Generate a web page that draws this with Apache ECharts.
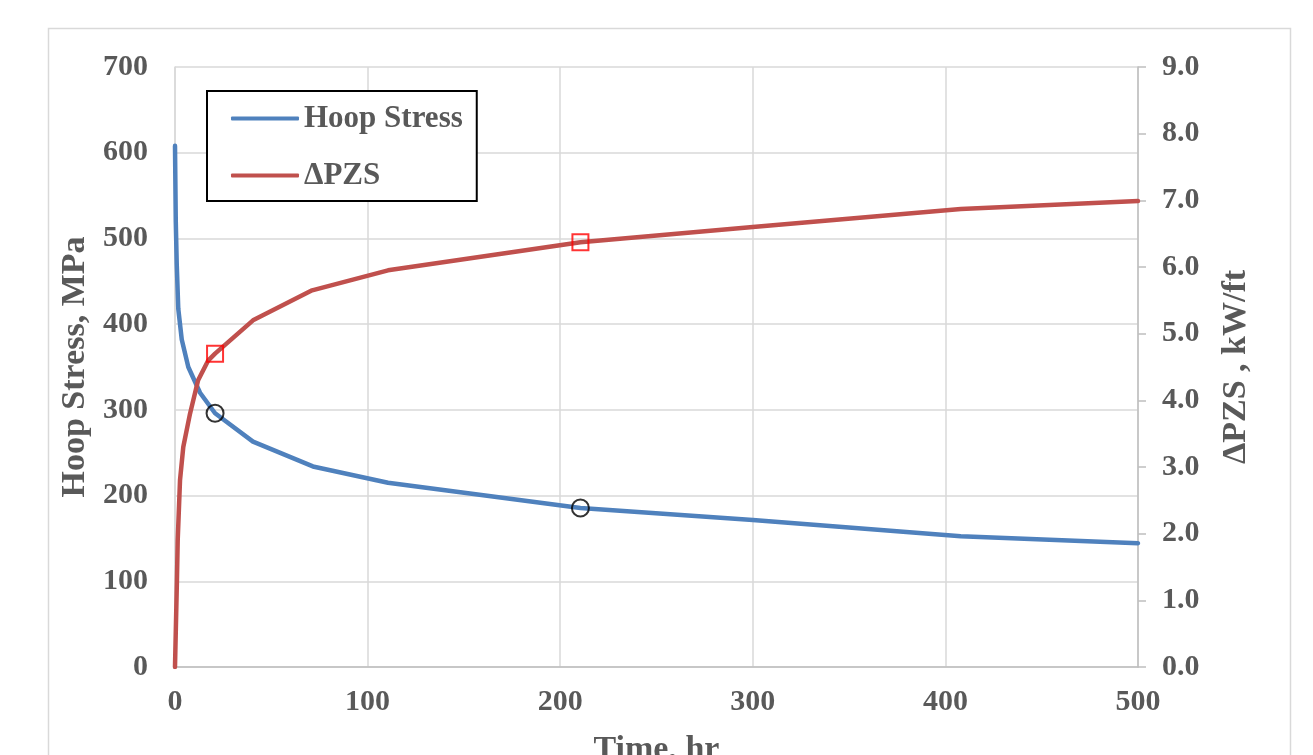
<!DOCTYPE html>
<html>
<head>
<meta charset="utf-8">
<script src="https://cdn.jsdelivr.net/npm/echarts@6/dist/echarts.min.js"></script>
<style>
html,body{margin:0;padding:0;background:#fff;overflow:hidden;}
#chart{width:1313px;height:755px;}
</style>
</head>
<body>
<div id="chart"></div>
<script>
// Time (hr) for each series
const hoopTime  = [0, 0.4, 0.9, 1.7, 3.5, 6.9, 13, 20.8, 40.5, 71.6, 110.6, 210.5, 300, 408, 500];
const hoopVal   = [608, 520, 470, 418, 382, 350, 320, 296, 263, 234, 215, 185.5, 171.5, 152.5, 144.5];
const pzsTime   = [0, 1.0, 1.4, 2.6, 4.3, 7.8, 12, 17.3, 20.8, 40.5, 71.2, 110.6, 210.5, 300, 408, 500];
const pzsVal    = [0, 1.3, 1.9, 2.8, 3.3, 3.8, 4.3, 4.6, 4.7, 5.2, 5.65, 5.95, 6.37, 6.60, 6.87, 6.99];
// Highlighted points
const circleTime = [20.8, 210.5];
const circleVal  = [296, 185.5];
const squareTime = [20.8, 210.5];
const squareVal  = [4.7, 6.37];
// Axis ticks
const xTicks = [0, 100, 200, 300, 400, 500];
const leftTicks = [0, 100, 200, 300, 400, 500, 600, 700];
const rightTicks = [0, 1, 2, 3, 4, 5, 6, 7, 8, 9];

const zip = (a, b) => a.map((v, i) => [v, b[i]]);
const FONT = 'Liberation Serif';
const TXT = '#595959';

const chart = echarts.init(document.getElementById('chart'), null, {renderer: 'canvas', width: 1313, height: 755});
chart.setOption({
  backgroundColor: '#fff',
  animation: false,
  graphic: [{
    type: 'rect', left: 46, top: 26, z: -10,
    shape: {x: 0, y: 0, width: 1242, height: 800},
    style: {fill: 'none', stroke: '#d9d9d9', lineWidth: 1.5}
  }],
  grid: {left: 175, width: 963, top: 67, height: 600, containLabel: false, outerBoundsMode: 'none'},
  legend: {
    data: [{name: 'Hoop Stress'}, {name: 'ΔPZS'}],
    orient: 'vertical',
    left: 207, top: 91,
    padding: [12, 14, 10, 24],
    icon: 'roundRect',
    itemWidth: 68, itemHeight: 4, itemGap: 26,
    lineStyle: {width: 4},
    borderColor: '#000', borderWidth: 2,
    backgroundColor: '#fff',
    textStyle: {fontFamily: FONT, fontWeight: 'bold', fontSize: 31, lineHeight: 30, color: TXT}
  },
  xAxis: {
    type: 'value', min: xTicks[0], max: xTicks[xTicks.length - 1], interval: 100,
    name: 'Time, hr', nameLocation: 'middle', nameGap: 66,
    nameTextStyle: {fontFamily: FONT, fontWeight: 'bold', fontSize: 34, color: TXT},
    axisLine: {show: true, lineStyle: {color: '#bfbfbf', width: 1.5}},
    axisTick: {show: false},
    axisLabel: {fontFamily: FONT, fontWeight: 'bold', fontSize: 30, color: TXT, margin: 20},
    splitLine: {show: true, lineStyle: {color: '#d9d9d9', width: 1.5}}
  },
  yAxis: [{
    type: 'value', min: leftTicks[0], max: leftTicks[leftTicks.length - 1], interval: 100,
    position: 'left',
    name: 'Hoop Stress, MPa', nameLocation: 'middle', nameGap: 80, nameRotate: 90,
    nameTextStyle: {fontFamily: FONT, fontWeight: 'bold', fontSize: 34, color: TXT},
    axisLine: {show: true, lineStyle: {color: '#d9d9d9', width: 1.5}},
    axisTick: {show: false},
    axisLabel: {fontFamily: FONT, fontWeight: 'bold', fontSize: 30, color: TXT, margin: 27},
    splitLine: {show: true, lineStyle: {color: '#d9d9d9', width: 1.5}}
  }, {
    type: 'value', min: rightTicks[0], max: rightTicks[rightTicks.length - 1], interval: 1,
    position: 'right',
    name: 'ΔPZS , kW/ft', nameLocation: 'middle', nameGap: 81, nameRotate: 90,
    nameTextStyle: {fontFamily: FONT, fontWeight: 'bold', fontSize: 34, color: TXT},
    axisLine: {show: true, lineStyle: {color: '#bfbfbf', width: 1.5}},
    axisTick: {show: true, inside: false, length: 8, lineStyle: {color: '#bfbfbf', width: 1.5}},
    axisLabel: {fontFamily: FONT, fontWeight: 'bold', fontSize: 30, color: TXT, margin: 24,
      formatter: v => v.toFixed(1)},
    splitLine: {show: false}
  }],
  series: [{
    name: 'Hoop Stress', type: 'line', yAxisIndex: 0,
    data: zip(hoopTime, hoopVal), symbol: 'none', showSymbol: false,
    lineStyle: {color: '#4f81bd', width: 4.5, cap: 'round', join: 'round'},
    itemStyle: {color: '#4f81bd'}, z: 2
  }, {
    name: 'ΔPZS', type: 'line', yAxisIndex: 1,
    data: zip(pzsTime, pzsVal), symbol: 'none', showSymbol: false,
    lineStyle: {color: '#c0504d', width: 4.5, cap: 'round', join: 'round'},
    itemStyle: {color: '#c0504d'}, z: 3
  }, {
    name: 'circles', type: 'scatter', yAxisIndex: 0,
    data: zip(circleTime, circleVal), symbol: 'circle', symbolSize: 17,
    itemStyle: {color: 'rgba(0,0,0,0)', borderColor: '#000', borderWidth: 2}, z: 5
  }, {
    name: 'squares', type: 'scatter', yAxisIndex: 1,
    data: zip(squareTime, squareVal), symbol: 'rect', symbolSize: 16,
    itemStyle: {color: 'rgba(0,0,0,0)', borderColor: '#ff0000', borderWidth: 2}, z: 5
  }]
});
</script>
</body>
</html>
